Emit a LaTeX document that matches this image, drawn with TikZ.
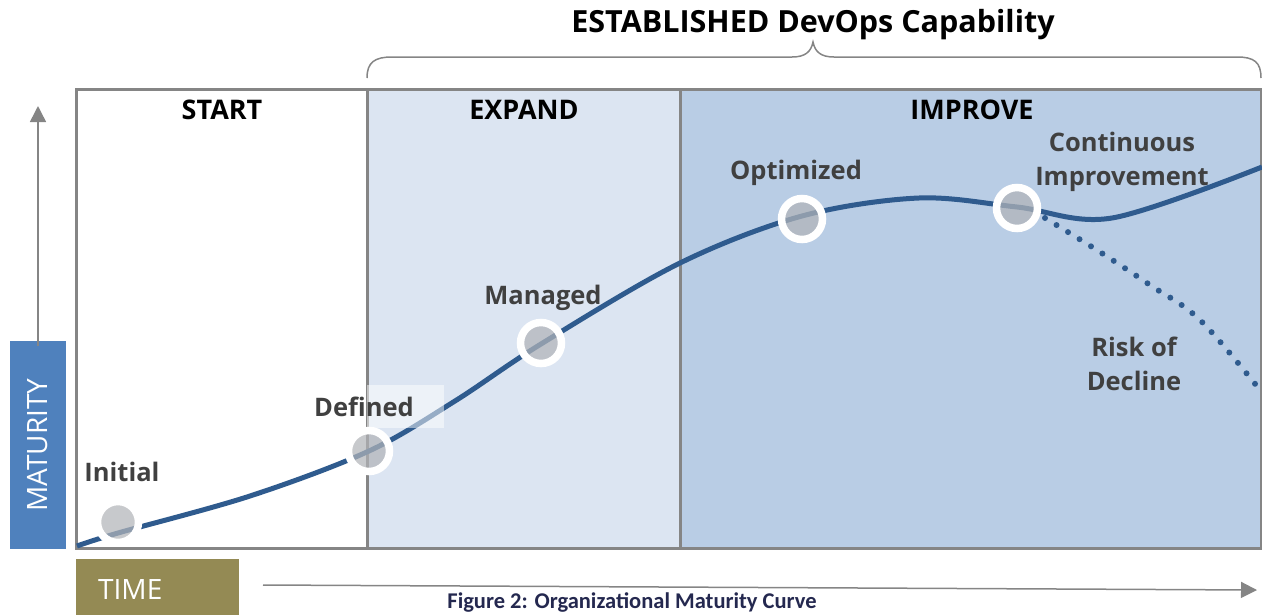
\documentclass[tikz,border=0pt]{standalone}
\usepackage{fontspec}
\setmainfont{Open Sans}
\newfontfamily\capfont{Carlito}
\usetikzlibrary{arrows.meta}

\definecolor{curveblue}{HTML}{2F5B8E}
\definecolor{expandblue}{HTML}{DCE5F2}
\definecolor{improveblue}{HTML}{B9CDE5}
\definecolor{framegray}{HTML}{858585}
\definecolor{labelgray}{HTML}{404040}
\definecolor{maturityblue}{HTML}{4F81BD}
\definecolor{timeolive}{HTML}{948A54}
\definecolor{captionnavy}{HTML}{24284F}
\definecolor{milestonegray}{HTML}{B2B4B8}

\begin{document}
\begin{tikzpicture}[x=1pt, y=-1pt,
    phase/.style={font=\bfseries\fontsize{27}{30}\selectfont, text=black},
    stage/.style={font=\bfseries\fontsize{25.5}{34}\selectfont, text=labelgray, align=center},
    milestone/.style={circle, draw=white, line width=7.5pt, fill=milestonegray,
        fill opacity=0.72, minimum size=41pt, inner sep=0pt},
    axisarrow/.style={draw=framegray, line width=1.5pt, -{Triangle[length=16pt,width=16pt]}}
]
    \useasboundingbox (0,0) rectangle (1262,614);

    % --- 見出しと括弧 ---
    \node[font=\bfseries\fontsize{30.5}{34}\selectfont] (title) at (813,25) {ESTABLISHED DevOps Capability};
    \draw[framegray, line width=1.5pt]
        (367,78) .. controls (367,62) and (375,57) .. (392,57) -- (792,57)
        .. controls (805,57) and (811,52) .. (813,42)
        .. controls (815,52) and (821,57) .. (834,57) -- (1237,57)
        .. controls (1254,57) and (1261,62) .. (1261,78);

    % --- 領域 ---
    \fill[expandblue] (367,89) rectangle (680,548);
    \fill[improveblue] (680,89) rectangle (1262,548);
    \draw[framegray, line width=3pt] (76,89) rectangle (1261,548);
    \foreach \xdiv in {367, 680} {
        \draw[framegray, line width=3pt] (\xdiv,89) -- (\xdiv,548);
    }
    \node[phase] (start) at (222,110) {START};
    \node[phase] (expand) at (524,110) {EXPAND};
    \node[phase] (improve) at (972,110) {IMPROVE};

    % --- 成熟度カーブ ---
    \draw[curveblue, line width=5pt] plot[smooth, tension=0.55] coordinates {
        (77,546) (118,533) (250,496) (369,451) (455,401) (541,344)
        (680,263) (802,216) (919,198) (1017,207) (1112,218) (1262,167)};
    \draw[curveblue, line width=6pt, line cap=round, dash pattern=on 0pt off 13.5pt]
        plot[smooth, tension=0.6] coordinates {
        (1045,218) (1100,252) (1150,285) (1200,320) (1260,390)};
    \fill[white, fill opacity=0.5] (367,385) rectangle (444,428);

    % --- 段階の印 ---
    \foreach \name/\x/\y in {initial/118/522, defined/369/451, managed/541/343,
                             optimized/802/219, continuous/1017/208} {
        \node[milestone] (\name) at (\x,\y) {};
    }
    \node[stage] (initialtext) at (122,472) {Initial};
    \node[stage] (definedtext) at (364,407) {Defined};
    \node[stage] (managedtext) at (543,298) {Managed};
    \node[stage] (optimizedtext) at (796,173) {Optimized};
    \node[stage] (continuoustext) at (1122,162) {Continuous\\Improvement};
    \node[stage] (risktext) at (1134,364) {Risk of\\Decline};

    % --- 軸 ---
    \node[rotate=90, fill=maturityblue, text=white, minimum width=208pt, minimum height=56pt,
        font=\fontsize{28}{28}\selectfont] (maturity) at (38,445) {MATURITY};
    \coordinate (maturitytip) at (38,106);
    \draw[axisarrow] ([yshift=-5pt]maturity.east) -- (maturitytip);

    \node[anchor=north west, fill=timeolive, text=white, inner xsep=22pt, text width=119pt,
        minimum height=60pt, align=left, font=\fontsize{28}{28}\selectfont] (time) at (76,559) {TIME};
    \coordinate (timetail) at (263,585);
    \coordinate (timetip) at (1257,590);
    \draw[axisarrow] (timetail) -- (timetip);

    \node[anchor=base, font=\capfont\bfseries\fontsize{22.5}{24}\selectfont, text=captionnavy]
        (caption) at (632,608) {Figure 2: Organizational Maturity Curve};

\end{tikzpicture}
\end{document}
